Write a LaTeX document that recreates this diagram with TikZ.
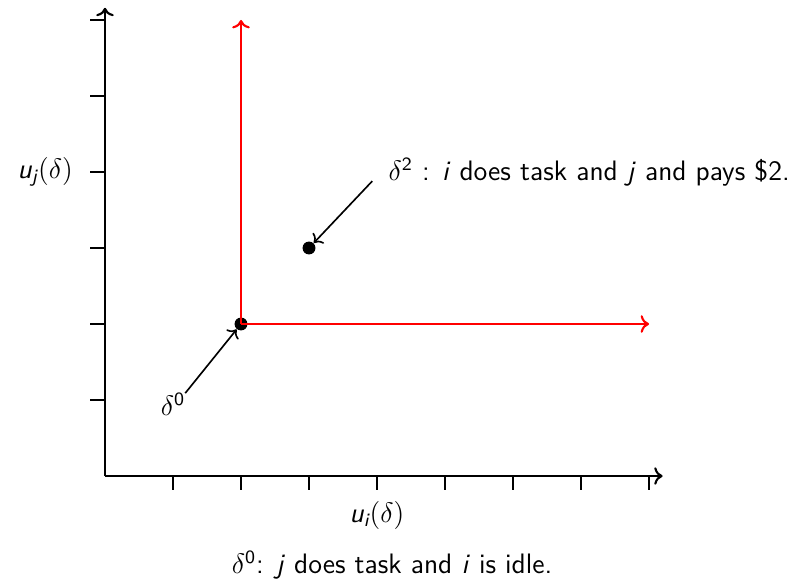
\documentclass[tikz,border=0pt]{standalone}
\usepackage{amsmath}
\usetikzlibrary{arrows.meta,positioning}
\renewcommand{\familydefault}{\sfdefault}

\begin{document}
\begin{tikzpicture}[
    x=1.02cm, y=1.14cm,
    axis/.style={->, line width=0.9pt},
    tick/.style={line width=0.9pt},
    region/.style={->, red, line width=0.9pt},
    pt/.style={circle, fill=black, inner sep=0pt, minimum size=5.5pt},
    note/.style={font=\large\sffamily, inner sep=1pt},
    pointer/.style={->, line width=0.7pt}
  ]
  \useasboundingbox (-1.544,-1.382) rectangle (10.382,6.263);

  % axes
  \coordinate (o) at (0,0);
  \coordinate (xend) at (8.2,0);
  \coordinate (yend) at (0,6.16);
  \draw[axis] (o) -- (xend);
  \draw[axis] (o) -- (yend);
  \foreach \i in {1,...,8} \draw[tick] (\i,0) -- (\i,-0.18);
  \foreach \j in {1,...,6} \draw[tick] (0,\j) -- (-0.22,\j);

  % no-trade region
  \node[pt] (d0) at (2,2) {};
  \node[pt] (d2) at (3,3) {};
  \coordinate (rtop) at (2,6);
  \coordinate (rright) at (8,2);
  \draw[region] (d0.center) -- (rtop);
  \draw[region] (d0.center) -- (rright);

  % labels
  \node[note] (uj) at (-0.88,4) {$\textit{u}_{\textit{j}}(\delta)$};
  \node[note] (ui) at (4,-0.52) {$\textit{u}_{\textit{i}}(\delta)$};
  \node[note, anchor=west] (l2) at (4.13,4) {$\delta^{\text{2}}$ : \textit{i} does task and \textit{j} and pays \$2.};
  \node[note] (l0) at (1.0,0.95) {$\delta^{\text{0}}$};
  \node[note] (cap) at (4.22,-1.17) {$\delta^{\text{0}}$: \textit{j} does task and \textit{i} is idle.};

  \coordinate (p2) at (3.93,3.88);
  \coordinate (p0) at (1.18,1.09);
  \draw[pointer] (p2) -- (d2);
  \draw[pointer] (p0) -- (d0);
\end{tikzpicture}
\end{document}
